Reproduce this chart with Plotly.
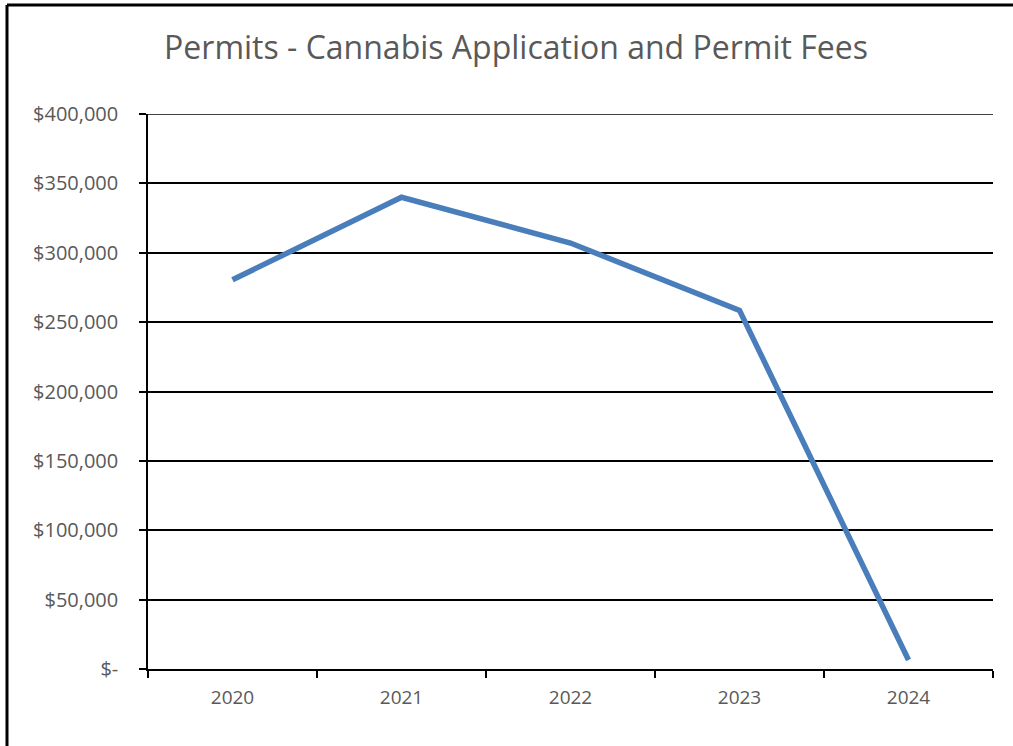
import plotly.graph_objects as go

years = ["2020", "2021", "2022", "2023", "2024"]
fees = [280500, 340000, 307000, 258500, 6500]
tick_vals = [0, 50000, 100000, 150000, 200000, 250000, 300000, 350000, 400000]
tick_text = ["$-", "$50,000", "$100,000", "$150,000", "$200,000", "$250,000",
             "$300,000", "$350,000", "$400,000"]

W, H = 1013, 746
L, R, T, B = 148, 20, 114, 77
pw, ph = W - L - R, H - T - B

fig = go.Figure()
fig.add_trace(go.Scatter(x=years, y=fees, mode="lines",
                         line=dict(color="#4A7EBB", width=5.5)))

font = "Open Sans, Liberation Sans, sans-serif"
grey = "#595959"
fig.update_layout(
    width=W, height=H,
    margin=dict(l=L, r=R, t=T, b=B),
    paper_bgcolor="white", plot_bgcolor="white",
    showlegend=False,
    title=dict(text="Permits - Cannabis Application and Permit Fees",
               x=516 / W, xref="container", xanchor="center",
               y=1 - 48 / H, yref="container", yanchor="middle",
               font=dict(family=font, size=32, color=grey)),
    xaxis=dict(type="category", tickson="boundaries", ticks="outside",
               ticklen=7, tickcolor="black", tickwidth=1.5,
               ticklabelstandoff=10,
               showline=True, linecolor="black", linewidth=1.5,
               showgrid=False, range=[-0.5, 4.5],
               tickfont=dict(family=font, size=19, color=grey)),
    yaxis=dict(range=[0, 400000], tickvals=tick_vals, ticktext=tick_text,
               ticks="outside", ticklen=7, tickcolor="black", tickwidth=1.5,
               ticklabelstandoff=17,
               showline=True, linecolor="black", linewidth=1.5,
               showgrid=True, gridcolor="black", gridwidth=1.5,
               zeroline=False,
               tickfont=dict(family=font, size=20, color=grey)),
)

# top gridline (plotly omits the one at the range edge)
fig.add_shape(type="line", xref="paper", yref="y", x0=0, x1=1,
              y0=max(tick_vals), y1=max(tick_vals),
              line=dict(color="black", width=1.5))

# outer chart border (top & left visible)
x_left = (7 - L) / pw
y_top = 1 + (T - 5) / ph
fig.add_shape(type="line", xref="paper", yref="paper",
              x0=x_left, x1=(W + 5 - L) / pw, y0=y_top, y1=y_top,
              line=dict(color="black", width=3))
fig.add_shape(type="line", xref="paper", yref="paper",
              x0=x_left, x1=x_left, y0=y_top, y1=-(B + 5) / ph,
              line=dict(color="black", width=3))

fig.write_html("out.html", config={"displayModeBar": False},
               post_script="document.body.style.margin='0';"
                           "document.body.style.overflow='hidden';")
